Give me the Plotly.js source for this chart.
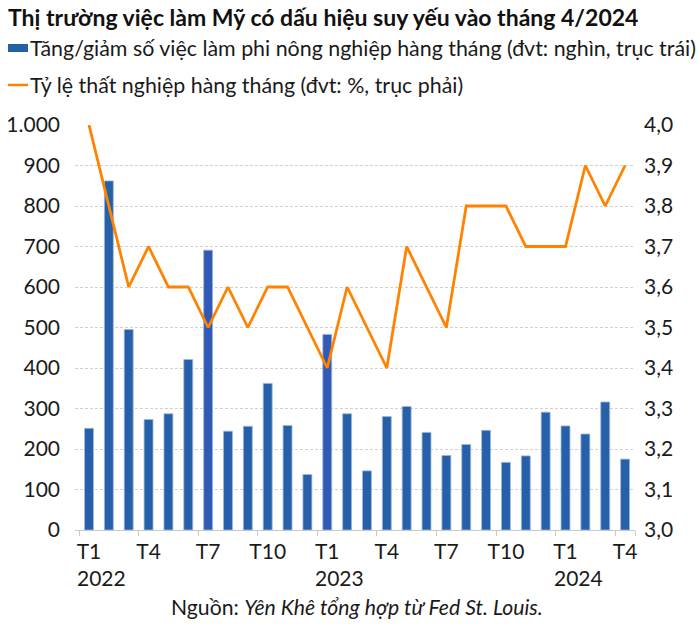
<!DOCTYPE html>
<html>
<head>
<meta charset="utf-8">
<script src="https://cdn.plot.ly/plotly-3.0.1.min.js"></script>
<style>
  html, body { margin: 0; padding: 0; background: #fff; }
  #chart { width: 700px; height: 627px; }
</style>
</head>
<body>
<div id="chart"></div>
<script>
// Months (Jan 2022 – Apr 2024)
var months = [
  "T1 2022","T2 2022","T3 2022","T4 2022","T5 2022","T6 2022","T7 2022","T8 2022","T9 2022","T10 2022","T11 2022","T12 2022",
  "T1 2023","T2 2023","T3 2023","T4 2023","T5 2023","T6 2023","T7 2023","T8 2023","T9 2023","T10 2023","T11 2023","T12 2023",
  "T1 2024","T2 2024","T3 2024","T4 2024"
];
// Nonfarm payroll change (thousands)
var payrolls = [251, 862, 495, 273, 287, 421, 691, 244, 256, 362, 258, 137,
                483, 287, 146, 280, 305, 241, 184, 211, 246, 167, 183, 291,
                257, 237, 316, 175];
// Unemployment rate (%)
var unemployment = [4.0, 3.8, 3.6, 3.7, 3.6, 3.6, 3.5, 3.6, 3.5, 3.6, 3.6, 3.5,
                    3.4, 3.6, 3.5, 3.4, 3.7, 3.6, 3.5, 3.8, 3.8, 3.8, 3.7, 3.7,
                    3.7, 3.9, 3.8, 3.9];
// Tick labels
var tickMonths = ["T1 2022","T4 2022","T7 2022","T10 2022","T1 2023","T4 2023","T7 2023","T10 2023","T1 2024","T4 2024"];
var tickLabels = ["T1","T4","T7","T10","T1","T4","T7","T10","T1","T4"];
var yearMonths = ["T1 2022","T1 2023","T1 2024"];
var yearLabels = ["2022","2023","2024"];

var title = "Thị trường việc làm Mỹ có dấu hiệu suy yếu vào tháng 4/2024";
var legendBar = "Tăng/giảm số việc làm phi nông nghiệp hàng tháng (đvt: nghìn, trục trái)";
var legendLine = "Tỷ lệ thất nghiệp hàng tháng (đvt: %, trục phải)";

var FONT = "Lato, 'Open Sans', sans-serif";
var BLUE = "#2660a8";
var ORANGE = "#ff8200";
var TXT = "#1a1a1a";

var barColors = payrolls.map(function (v, i) {
  return (i === 6 || i === 12) ? "#3159b6" : BLUE;
});

var L = 75, R = 65, T = 125, B = 97, W = 700, H = 627;
var pw = W - L - R, ph = H - T - B;
function px(x) { return (x - L) / pw; }
function py(y) { return (H - B - y) / ph; }

var traces = [
  {
    type: "bar", name: legendBar, x: months, y: payrolls,
    marker: { color: barColors, line: { color: "#9db7dd", width: 0.8 } },
    yaxis: "y", showlegend: false, hoverinfo: "x+y"
  },
  {
    type: "scatter", mode: "lines", name: legendLine, x: months, y: unemployment,
    line: { color: ORANGE, width: 2.8 },
    yaxis: "y2", showlegend: false
  }
];

var annotations = [
  { text: "<b>" + title + "</b>", xref: "paper", yref: "paper", x: px(6), y: py(17),
    xanchor: "left", yanchor: "middle", showarrow: false,
    font: { family: FONT, size: 23, color: "#111" } },
  { text: legendBar, xref: "paper", yref: "paper", x: px(28), y: py(48),
    xanchor: "left", yanchor: "middle", showarrow: false,
    font: { family: FONT, size: 21.4, color: TXT } },
  { text: legendLine, xref: "paper", yref: "paper", x: px(28), y: py(85),
    xanchor: "left", yanchor: "middle", showarrow: false,
    font: { family: FONT, size: 21.4, color: TXT } },
  { text: "Nguồn: <i>Yên Khê tổng hợp từ Fed St. Louis.</i>", xref: "paper", yref: "paper",
    x: px(357), y: py(607), xanchor: "center", yanchor: "middle", showarrow: false,
    font: { family: FONT, size: 21.2, color: TXT } }
];
yearMonths.forEach(function (m, i) {
  annotations.push({ text: yearLabels[i], x: m, xref: "x", yref: "paper", y: py(577),
    xanchor: "left", yanchor: "middle", xshift: -14, showarrow: false,
    font: { family: FONT, size: 21, color: TXT } });
});

var shapes = [
  { type: "rect", xref: "paper", yref: "paper", x0: px(8), x1: px(28), y0: py(44), y1: py(52),
    fillcolor: BLUE, line: { width: 0 } },
  { type: "line", xref: "paper", yref: "paper", x0: px(8), x1: px(28), y0: py(85), y1: py(85),
    line: { color: ORANGE, width: 2.5 } }
];

var layout = {
  width: W, height: H,
  margin: { l: L, r: R, t: T, b: B, pad: 0 },
  paper_bgcolor: "#fff", plot_bgcolor: "#fff",
  separators: ",.",
  bargap: 0.55,
  showlegend: false,
  font: { family: FONT, size: 21, color: TXT },
  xaxis: {
    type: "category",
    categoryorder: "array", categoryarray: months,
    tickmode: "array", tickvals: tickMonths, ticktext: tickLabels,
    tickson: "boundaries", tickangle: 0,
    ticks: "outside", ticklen: 5, tickcolor: "#c8c8c8", tickwidth: 1,
    showline: true, linecolor: "#c8c8c8", linewidth: 1.3,
    showgrid: false, zeroline: false,
    ticklabelstandoff: 2,
    tickfont: { family: FONT, size: 21, color: TXT },
    automargin: false
  },
  yaxis: {
    range: [0, 1000], dtick: 100, tick0: 0,
    separatethousands: true,
    showgrid: true, gridcolor: "#d0d0d0", griddash: "3px,2px", gridwidth: 1,
    zeroline: false, showline: false, ticks: "",
    ticklabelstandoff: 14,
    tickfont: { family: FONT, size: 21, color: TXT },
    automargin: false
  },
  yaxis2: {
    overlaying: "y", side: "right",
    range: [3.0, 4.0], dtick: 0.1, tick0: 3.0, tickformat: ".1f",
    showgrid: false, zeroline: false, showline: false, ticks: "",
    ticklabelstandoff: 8,
    tickfont: { family: FONT, size: 21, color: TXT },
    automargin: false
  },
  annotations: annotations,
  shapes: shapes
};

Plotly.newPlot("chart", traces, layout, { displayModeBar: false, staticPlot: true });
</script>
</body>
</html>
